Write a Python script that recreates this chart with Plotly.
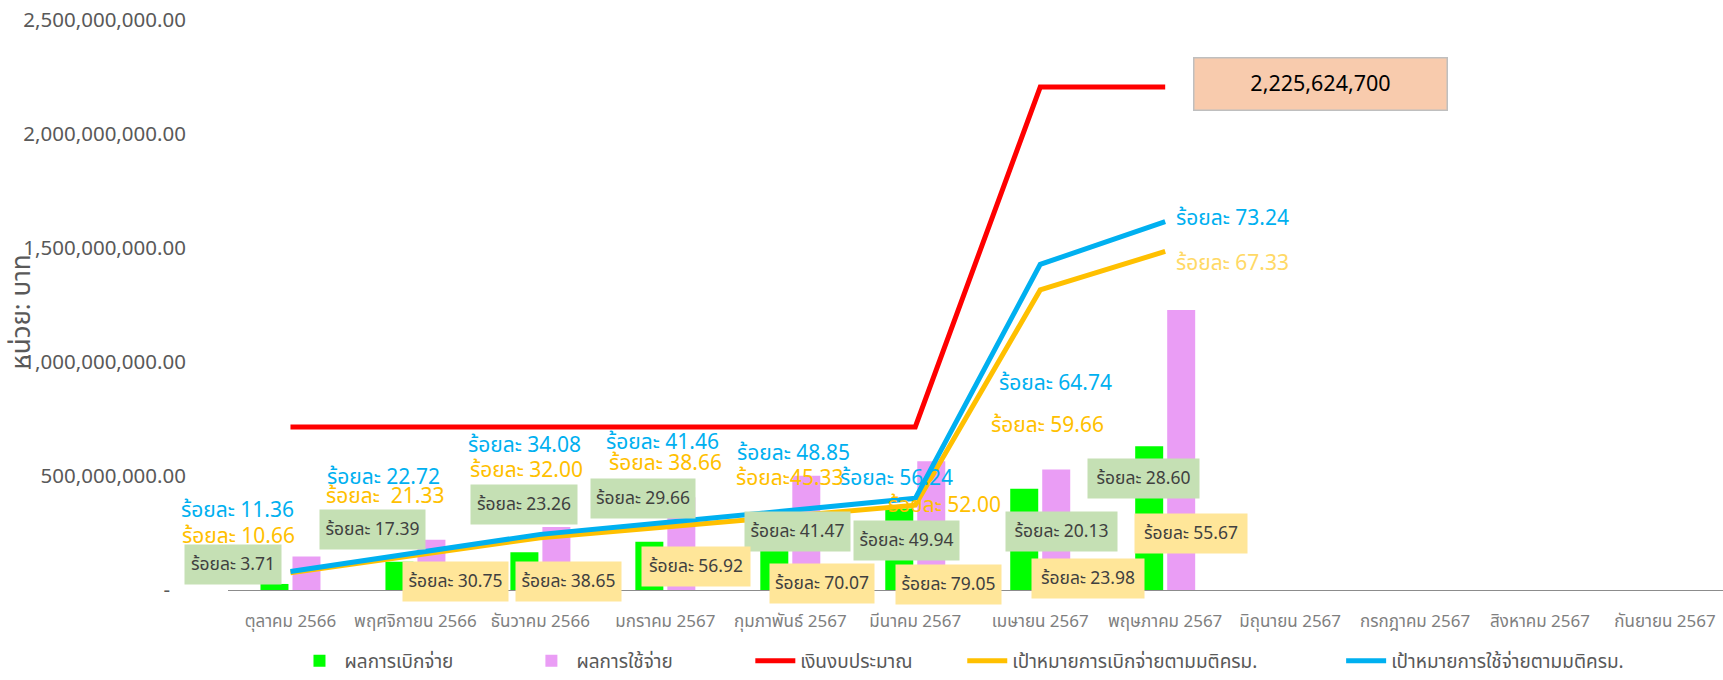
import plotly.graph_objects as go

# ---------------- data ----------------
months = ["ตุลาคม 2566", "พฤศจิกายน 2566", "ธันวาคม 2566", "มกราคม 2567",
          "กุมภาพันธ์ 2567", "มีนาคม 2567", "เมษายน 2567", "พฤษภาคม 2567",
          "มิถุนายน 2567", "กรกฎาคม 2567", "สิงหาคม 2567", "กันยายน 2567"]
data_months = months[:8]

disburse = [26.5e6, 124e6, 166e6, 212e6, 296.5e6, 357e6, 444e6, 631e6]      # ผลการเบิกจ่าย
spend = [147e6, 220e6, 276e6, 407e6, 501e6, 565e6, 529e6, 1228e6]            # ผลการใช้จ่าย
budget = [715e6, 715e6, 715e6, 715e6, 715e6, 715e6, 2206e6, 2206e6]           # เงินงบประมาณ
target_disburse = [76e6, 152e6, 229e6, 276e6, 324e6, 372e6, 1316e6, 1485e6]  # เป้าหมายการเบิกจ่าย
target_spend = [81e6, 162e6, 244e6, 296e6, 349e6, 402e6, 1428e6, 1616e6]     # เป้าหมายการใช้จ่าย

pct_disburse = ["3.71", "17.39", "23.26", "29.66", "41.47", "49.94", "20.13", "28.60"]
pct_spend = ["20.61", "30.75", "38.65", "56.92", "70.07", "79.05", "23.98", "55.67"]
pct_target_spend = ["11.36", "22.72", "34.08", "41.46", "48.85", "56.24", "64.74", "73.24"]
pct_target_disburse = ["10.66", "21.33", "32.00", "38.66", "45.33", "52.00", "59.66", "67.33"]
budget_total_label = "2,225,624,700"

y_tickvals = [0, 500e6, 1000e6, 1500e6, 2000e6, 2500e6]
y_ticktext = ["-\u00a0\u00a0\u00a0", "500,000,000.00", "1,000,000,000.00", "1,500,000,000.00",
              "2,000,000,000.00", "2,500,000,000.00"]

# ---------------- styling / layout helpers ----------------
W, H = 1723, 680
PL, PR_EDGE, PT, PB = 227.5, 1723, 20, 590
CAT_W = 125.0
X0_CENTER = PL + CAT_W / 2
YMAX = 2.5e9

FONT = "Tahoma, 'Noto Sans Thai', 'Noto Sans', 'DejaVu Sans', sans-serif"
BLUE, YELLOW, RED = "#00B0F0", "#FFC000", "#FF0000"
GREEN_BAR, PINK_BAR = "#00FF00", "#EA9DF5"
GREEN_BOX, YELLOW_BOX = "#C5E0B4", "#FFE699"


def xd(px):
    return (px - X0_CENTER) / CAT_W


def yd(py):
    return (PB - py) / (PB - PT) * YMAX


def xp(px):
    return (px - PL) / (PR_EDGE - PL)


def yp(py):
    return (PB - py) / (PB - PT)


# label placement (pixel centres) - layout only
blue_pos = [(237, 510), (383, 477), (524, 445), (662, 442), (793, 453), (896, 478), (1055, 383), (1232, 218)]
yellow_pos = [(238, 536), (385, 496), (526, 470), (665, 463), (790, 478), (944, 505), (1047, 425), (1232, 263)]
green_box_pos = [(232, 564, 96), (372, 529, 105), (524, 504, 106), (643, 498, 104),
                 (797, 531, 105), (906, 540, 105), (1061, 531, 111), (1143, 478, 111)]
yellow_box_pos = [(301, 599, 105), (455, 581, 105), (568, 581, 105), (696, 566, 108),
                  (822, 583, 104), (948, 584, 105), (1088, 578, 112), (1191, 533, 112)]

fig = go.Figure()
fig.add_trace(go.Bar(x=data_months, y=disburse, name="ผลการเบิกจ่าย",
                     marker=dict(color=GREEN_BAR, line=dict(width=0)), legend="legend"))
fig.add_trace(go.Bar(x=data_months, y=spend, name="ผลการใช้จ่าย",
                     marker=dict(color=PINK_BAR, line=dict(width=0)), legend="legend2"))
fig.add_trace(go.Scatter(x=data_months, y=budget, name="เงินงบประมาณ", mode="lines",
                         line=dict(color=RED, width=5), legend="legend3"))
fig.add_trace(go.Scatter(x=data_months, y=target_disburse, name="เป้าหมายการเบิกจ่ายตามมติครม.",
                         mode="lines", line=dict(color=YELLOW, width=5), legend="legend4"))
fig.add_trace(go.Scatter(x=data_months, y=target_spend, name="เป้าหมายการใช้จ่ายตามมติครม.",
                         mode="lines", line=dict(color=BLUE, width=5), legend="legend5"))

annotations = []
for i, (p, (px, py)) in enumerate(zip(pct_target_spend, blue_pos)):
    annotations.append(dict(x=xd(px), y=yd(py), xref="x", yref="y", text="ร้อยละ " + p,
                            showarrow=False, font=dict(family=FONT, size=21, color=BLUE)))
for i, (p, (px, py)) in enumerate(zip(pct_target_disburse, yellow_pos)):
    sep = " "
    if i == 1:
        sep = "\u00a0\u00a0"
    if i == 4:
        sep = ""
    col = "#FFD966" if i == 7 else YELLOW
    annotations.append(dict(x=xd(px), y=yd(py), xref="x", yref="y", text="ร้อยละ" + sep + p,
                            showarrow=False, font=dict(family=FONT, size=21, color=col)))
for p, (px, py, w) in zip(pct_disburse, green_box_pos):
    annotations.append(dict(x=xd(px), y=yd(py), xref="x", yref="y", text="ร้อยละ " + p,
                            showarrow=False, bgcolor=GREEN_BOX, width=w, height=39, borderpad=0,
                            font=dict(family=FONT, size=17.5, color="#404040")))
for p, (px, py, w) in zip(pct_spend, yellow_box_pos):
    annotations.append(dict(x=xd(px), y=yd(py), xref="x", yref="y", text="ร้อยละ " + p,
                            showarrow=False, bgcolor=YELLOW_BOX, width=w, height=39, borderpad=0,
                            font=dict(family=FONT, size=17.5, color="#404040")))
annotations.append(dict(x=xd(1320), y=yd(84), xref="x", yref="y", text=budget_total_label,
                        showarrow=False, bgcolor="#F8CBAD", bordercolor="#BFBFBF", borderwidth=1.5,
                        width=252, height=51, borderpad=0,
                        font=dict(family=FONT, size=21.5, color="#000000")))
annotations.append(dict(x=xp(21), y=yp(312), xref="paper", yref="paper", text="หน่วย: บาท",
                        textangle=-90, showarrow=False, xanchor="center", yanchor="middle",
                        font=dict(family=FONT, size=26, color="#595959")))


def legend_cfg(text_start_px):
    return dict(x=xp(text_start_px - 50), y=yp(680), xanchor="left", yanchor="bottom",
                orientation="h", bgcolor="rgba(0,0,0,0)",
                font=dict(family=FONT, size=19, color="#595959"), itemwidth=40)


fig.update_layout(
    width=W, height=H,
    margin=dict(l=PL, r=0, t=PT, b=H - PB, pad=0, autoexpand=False),
    paper_bgcolor="white", plot_bgcolor="white",
    barmode="group", bargap=0.488, bargroupgap=0.125,
    hovermode=False,
    font=dict(family=FONT, color="#595959"),
    xaxis=dict(type="category", categoryorder="array", categoryarray=months,
               range=[-0.5, -0.5 + (PR_EDGE - PL) / CAT_W], automargin=False,
               showline=True, linecolor="#8C8C8C", linewidth=1.3, showgrid=False, zeroline=False,
               ticks="", ticklabelstandoff=15, tickfont=dict(family=FONT, size=17, color="#7F7F7F")),
    yaxis=dict(range=[0, YMAX], tickvals=y_tickvals, ticktext=y_ticktext, automargin=False,
               showgrid=False, zeroline=False, showline=False, ticks="", ticklabelstandoff=41,
               tickfont=dict(family=FONT, size=20.5, color="#595959")),
    annotations=annotations,
    showlegend=True,
    legend=legend_cfg(344),
    legend2=legend_cfg(576),
    legend3=legend_cfg(800),
    legend4=legend_cfg(1012),
    legend5=legend_cfg(1391),
)

fig.write_html("out.html", config={"displayModeBar": False},
               post_script="document.body.style.margin='0';document.body.style.overflow='hidden';")
